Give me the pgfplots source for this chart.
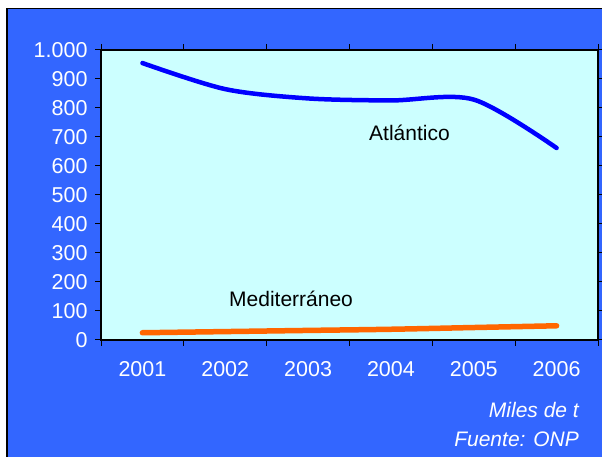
\documentclass[border=0pt]{standalone}
\usepackage{pgfplots}
\pgfplotsset{compat=1.18}
\usepackage{fontspec}
\setmainfont{Liberation Sans}
\definecolor{bg}{RGB}{51,102,255}
\definecolor{plotbg}{RGB}{204,255,255}
\definecolor{orangeline}{RGB}{255,102,0}
\definecolor{blueline}{RGB}{0,0,255}
\begin{document}
\begin{tikzpicture}[x=1bp,y=1bp]
\useasboundingbox (0,0) rectangle (602,457);
\fill[white] (0,0) rectangle (602,457);
\fill[bg] (6,0) rectangle (602,449);
\draw[black,line width=1.5bp] (6.75,0) -- (6.75,448.25) -- (602,448.25);
\begin{axis}[
  at={(101bp,117bp)}, anchor=south west,
  scale only axis, width=497bp, height=290bp,
  xmin=0.5, xmax=6.5, ymin=0, ymax=1000,
  axis background/.style={fill=plotbg},
  axis line style={black, line width=1.5bp},
  xtick={0.5,1.5,...,6.5}, xticklabels={},
  extra x ticks={1,2,3,4,5,6},
  extra x tick labels={2001,2002,2003,2004,2005,2006},
  extra x tick style={major tick length=0pt},
  ytick={0,100,...,1000},
  yticklabels={0,100,200,300,400,500,600,700,800,900,{1.000}},
  tick align=outside,
  major tick length=6bp,
  tick style={black, line width=1bp},
  ticklabel style={white, font=\fontsize{21.5bp}{25bp}\selectfont},
  xticklabel style={yshift=-18bp},
  yticklabel style={xshift=-4bp},
  axis on top,
]
\addplot[blueline, line width=4.5bp, smooth, tension=0.5, line cap=round] coordinates {
  (1,955) (2,865) (3,833) (4,826) (5,829) (6,662)
};
\addplot[orangeline, line width=5.5bp, smooth, tension=0.5, line cap=round] coordinates {
  (1,25) (2,29) (3,33) (4,37) (5,43) (6,49)
};
\end{axis}
\node[anchor=base west, inner sep=0, font=\fontsize{21bp}{25bp}\selectfont] at (369,316) {Atlántico};
\node[anchor=base west, inner sep=0, font=\fontsize{21bp}{25bp}\selectfont] at (229,150) {Mediterráneo};
\node[anchor=base east, inner sep=0, white, font=\fontsize{21bp}{25bp}\itshape] at (579,39) {Miles de t};
\node[anchor=base east, inner sep=0, white, font=\fontsize{21bp}{25bp}\itshape] at (579,10) {Fuente: ONP};
\end{tikzpicture}
\end{document}
